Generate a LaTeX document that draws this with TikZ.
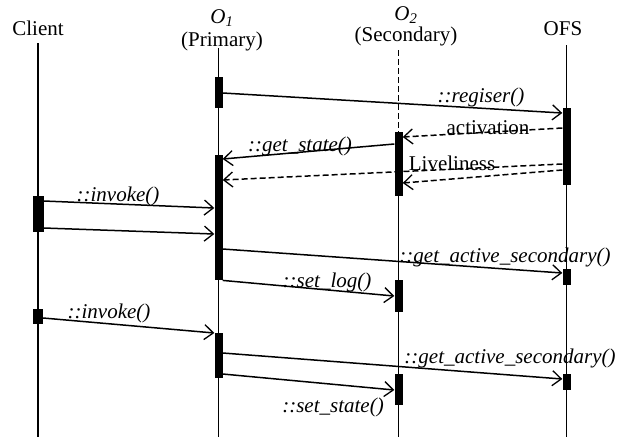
\documentclass[tikz,border=0pt]{standalone}
\usepackage{fontspec}
\setmainfont{Liberation Serif}
\usetikzlibrary{arrows.meta}
\begin{document}
\begin{tikzpicture}[x=1pt,y=-1pt,
  hdr/.style={font=\fontsize{21}{24}\selectfont, inner sep=0pt},
  msg/.style={font=\fontsize{21}{24}\selectfont\itshape, inner sep=0pt},
  life/.style={line width=1.1pt},
  lifedash/.style={life, dash pattern=on 6pt off 3pt},
  actbar/.style={fill=black, draw=none, minimum width=8pt, inner sep=0pt, anchor=north},
  call/.style={line width=1.5pt, -{Straight Barb[length=9pt,width=15pt,line width=1.3pt]}},
  reply/.style={call, dash pattern=on 6pt off 3pt}]
\useasboundingbox (0,0) rectangle (617,440);
% headers
\node[hdr, anchor=base] (client) at (38,35) {Client};
\node[hdr, anchor=base, align=center, font=\fontsize{21}{23}\selectfont] (o1) at (222,46)
  {\textit{O}\textsubscript{\textit{1}}\\(Primary)};
\node[hdr, anchor=base, align=center, font=\fontsize{21}{20.5}\selectfont] (o2) at (406,41)
  {\textit{O}\textsubscript{\textit{2}}\\(Secondary)};
\node[hdr, anchor=base] (ofs) at (563,35) {OFS};
% lifeline ends
\coordinate (cT) at (38,43);   \coordinate (cB) at (38,437);
\coordinate (pT) at (218.5,48); \coordinate (pB) at (218.5,437);
\coordinate (sT) at (398.5,50); \coordinate (sB) at (398.5,437);
\coordinate (fT) at (566.5,45); \coordinate (fB) at (566.5,437);
% activation bars
\node[actbar, minimum height=31pt] (p1) at (218.5,77) {};
\node[actbar, minimum height=77pt] (f1) at (566.5,108) {};
\node[actbar, minimum height=64pt] (s1) at (398.5,132) {};
\node[actbar, minimum height=125pt] (p2) at (218.5,155) {};
\node[actbar, minimum height=36pt, minimum width=11pt] (c1) at (38,196) {};
\node[actbar, minimum height=16pt] (f2) at (566.5,269) {};
\node[actbar, minimum height=32pt] (s2) at (398.5,280) {};
\node[actbar, minimum height=15pt, minimum width=10pt] (c2) at (38,309) {};
\node[actbar, minimum height=45pt] (p3) at (218.5,333) {};
\node[actbar, minimum height=16pt] (f3) at (566.5,374) {};
\node[actbar, minimum height=31pt] (s3) at (398.5,374) {};
% lifelines
\draw[life] (cT) -- (cB);
\draw[life] (pT) -- (pB);
\draw[life] (fT) -- (fB);
\draw[lifedash] (sT) -- (s1.north);
\draw[life] (s1.south) -- (sB);
% messages
\draw[call] ([yshift=-16pt]p1.north east) -- ([yshift=-5pt]f1.north west);
\draw[reply] ([yshift=-20pt]f1.north west) -- ([yshift=-5pt]s1.north east);
\draw[call] ([yshift=-12pt]s1.north west) -- ([yshift=-4pt]p2.north east);
\draw[reply] ([yshift=-56pt]f1.north west) -- ([yshift=-25pt]p2.north east);
\draw[reply] ([yshift=-62pt]f1.north west) -- ([yshift=-51pt]s1.north east);
\draw[call] ([yshift=-5pt]c1.north east) -- ([yshift=-53pt]p2.north west);
\draw[call] ([yshift=-32pt]c1.north east) -- ([yshift=-79pt]p2.north west);
\draw[call] ([yshift=-94pt]p2.north east) -- ([yshift=-4pt]f2.north west);
\draw[call] (p2.south east) -- ([yshift=-16pt]s2.north west);
\draw[call] ([yshift=-9pt]c2.north east) -- ([yshift=0pt]p3.north west);
\draw[call] ([yshift=-20pt]p3.north east) -- ([yshift=-5pt]f3.north west);
\draw[call] ([yshift=-41pt]p3.north east) -- ([yshift=-16pt]s3.north west);
% labels
\node[msg] (l1) at (481,97) {::regiser()};
\node[hdr] (l2) at (488,128) {activation};
\node[msg] (l3) at (300,146) {::get\_state()};
\node[hdr] (l4) at (452,163) {Liveliness};
\node[msg] (l5) at (118,196) {::invoke()};
\node[msg] (l6) at (505,257) {::get\_active\_secondary()};
\node[msg] (l7) at (327,282) {::set\_log()};
\node[msg] (l8) at (109,313) {::invoke()};
\node[msg] (l9) at (510,358) {::get\_active\_secondary()};
\node[msg] (l10) at (333,407) {::set\_state()};
\end{tikzpicture}
\end{document}
